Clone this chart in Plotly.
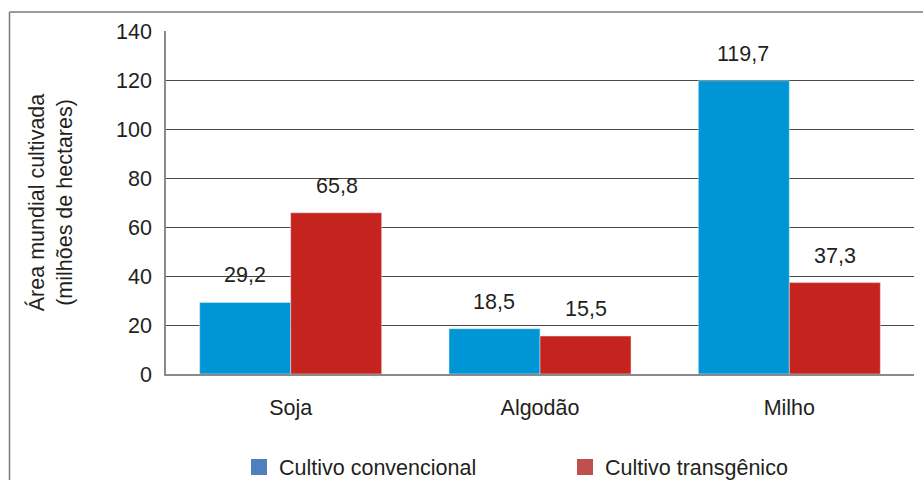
import plotly.graph_objects as go

categories = ["Soja", "Algodão", "Milho"]
convencional = [29.2, 18.5, 119.7]
transgenico = [65.8, 15.5, 37.3]
labels_conv = ["29,2", "18,5", "119,7"]
labels_trans = ["65,8", "15,5", "37,3"]
y_ticks = [0, 20, 40, 60, 80, 100, 120, 140]

FONT = "Liberation Sans, Arial, sans-serif"
FS = 21.5
TXT = "#231f20"
BLUE = "#0096d6"
RED = "#c4241d"
LEG_BLUE = "#4f7fc0"
LEG_RED = "#c0504d"

L, R, T, B = 166, 914, 31, 374
W, H = R - L, B - T
def px(x): return (x - L) / W
def py(y): return (B - y) / H

fig = go.Figure()
fig.add_trace(go.Bar(x=categories, y=convencional, marker_color=BLUE, showlegend=False))
fig.add_trace(go.Bar(x=categories, y=transgenico, marker_color=RED, showlegend=False))
fig.add_trace(go.Scatter(x=[None], y=[None], mode="markers", name="Cultivo convencional",
                         legend="legend",
                         marker=dict(symbol="square", size=18, color=LEG_BLUE)))
fig.add_trace(go.Scatter(x=[None], y=[None], mode="markers", name="Cultivo transgênico",
                         legend="legend2",
                         marker=dict(symbol="square", size=18, color=LEG_RED)))

annotations = []
for cat, v, t in zip(categories, convencional, labels_conv):
    annotations.append(dict(x=cat, y=v, text=t, showarrow=False, xshift=-46, yshift=27,
                            yanchor="middle", font=dict(size=FS, color=TXT, family=FONT)))
for cat, v, t in zip(categories, transgenico, labels_trans):
    annotations.append(dict(x=cat, y=v, text=t, showarrow=False, xshift=46, yshift=27,
                            yanchor="middle", font=dict(size=FS, color=TXT, family=FONT)))

shapes = [
    dict(type="line", xref="paper", yref="paper", x0=px(9.5), x1=px(9.5), y0=py(482), y1=py(12),
         line=dict(color="#7a7a7a", width=1.5)),
    dict(type="line", xref="paper", yref="paper", x0=px(9.5), x1=px(925), y0=py(12), y1=py(12),
         line=dict(color="#7a7a7a", width=1.5)),
]

leg_common = dict(orientation="h", yanchor="middle", xanchor="left",
                  font=dict(size=FS, color=TXT, family=FONT), bgcolor="rgba(0,0,0,0)")

fig.update_layout(
    width=923, height=480,
    margin=dict(l=L, r=923 - R, t=T, b=480 - B, autoexpand=False),
    paper_bgcolor="white", plot_bgcolor="white",
    barmode="group", bargap=0.27, bargroupgap=0,
    font=dict(family=FONT, size=FS, color=TXT),
    annotations=annotations,
    shapes=shapes,
    showlegend=True,
    legend=dict(x=px(239), y=py(467), **leg_common),
    legend2=dict(x=px(565), y=py(467), **leg_common),
    xaxis=dict(showgrid=False, showline=True, linecolor="#8a8a8a", linewidth=2,
               ticks="outside", ticklen=13, tickcolor="rgba(0,0,0,0)",
               tickfont=dict(size=FS, color=TXT), fixedrange=True),
    yaxis=dict(range=[0, 140], tickvals=y_ticks, showgrid=True, gridcolor="#4a4a4a", gridwidth=1.2,
               showline=True, linecolor="#8a8a8a", linewidth=1.5, zeroline=False,
               ticks="outside", ticklen=8, tickcolor="rgba(0,0,0,0)",
               tickfont=dict(size=FS, color=TXT),
               title=dict(text="Área mundial cultivada<br>(milhões de hectares)",
                          font=dict(size=FS, color=TXT), standoff=38)),
)

fig.write_html("out.html")
